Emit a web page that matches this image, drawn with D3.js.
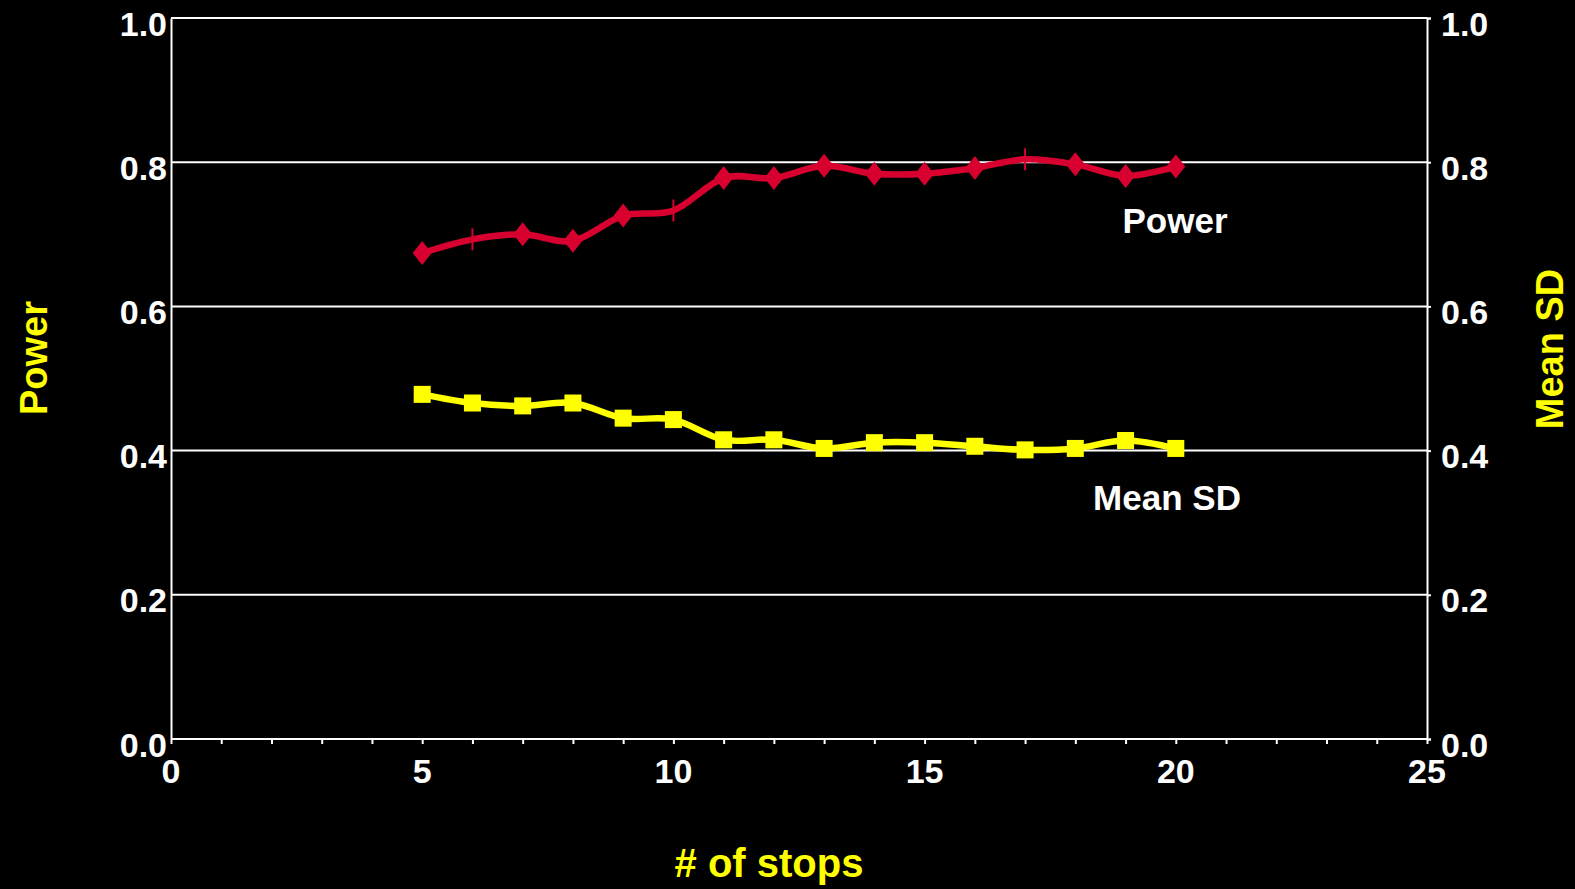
<!DOCTYPE html>
<html>
<head>
<meta charset="utf-8">
<script src="https://cdn.jsdelivr.net/npm/d3@7"></script>
<style>
  html, body { margin: 0; padding: 0; background: #000; }
  svg { display: block; font-family: Arial, "Liberation Sans", sans-serif; font-weight: bold; }
</style>
</head>
<body>
<svg id="chart"></svg>
<script>
// data
const stops = [5, 6, 7, 8, 9, 10, 11, 12, 13, 14, 15, 16, 17, 18, 19, 20];
const power = [0.674, 0.693, 0.700, 0.691, 0.726, 0.733, 0.778, 0.778, 0.795, 0.784, 0.784, 0.792, 0.804, 0.797, 0.781, 0.794];
const meanSD = [0.478, 0.466, 0.462, 0.466, 0.445, 0.443, 0.415, 0.415, 0.403, 0.411, 0.411, 0.406, 0.401, 0.403, 0.414, 0.403];
// points drawn as a thin vertical tick instead of a diamond
const tickOnly = [6, 10, 17];
const xTicks = [0, 5, 10, 15, 20, 25];
const yTicks = [0, 0.2, 0.4, 0.6, 0.8, 1.0];

const width = 1575, height = 889;
const red = '#d7002f', yellow = '#ffff00';

const svg = d3.select('#chart')
    .attr('width', width)
    .attr('height', height);

const x = d3.scaleLinear().domain([0, 25]).range([171, 1427]);
const y = d3.scaleLinear().domain([0, 1]).range([739, 18]);

// horizontal grid lines (also top border)
svg.append('g')
    .selectAll('line')
    .data(yTicks.filter(d => d > 0))
    .join('line')
    .attr('x1', x(0)).attr('x2', x(25))
    .attr('y1', d => y(d)).attr('y2', d => y(d))
    .attr('stroke', '#fff').attr('stroke-width', 2);

// bottom axis with minor ticks every unit
const xAxis = d3.axisBottom(x).ticks(25).tickSize(5).tickFormat('');
const gx = svg.append('g').attr('transform', `translate(0,${y(0)})`).call(xAxis);
gx.selectAll('path, line').attr('stroke', '#fff').attr('stroke-width', 2);
gx.select('.domain').attr('d', `M${x(0)},0H${x(25)}`);

svg.append('g')
    .selectAll('text')
    .data(xTicks)
    .join('text')
    .attr('x', d => x(d))
    .attr('y', 783)
    .attr('text-anchor', 'middle')
    .attr('fill', '#fff')
    .attr('font-size', 34)
    .text(d => d);

// left and right axes
const yLeft = d3.axisLeft(y).tickValues(yTicks).tickSize(0).tickFormat(d3.format('.1f'));
const gl = svg.append('g').attr('transform', `translate(${x(0)},0)`).call(yLeft);
gl.select('.domain').attr('stroke', '#fff').attr('stroke-width', 2);
gl.selectAll('text')
    .attr('fill', '#fff').attr('font-size', 34)
    .attr('font-family', 'Arial, "Liberation Sans", sans-serif')
    .attr('x', -4).attr('dy', '0.5em');

const yRight = d3.axisRight(y).tickValues(yTicks).tickSize(4).tickFormat(d3.format('.1f'));
const gr = svg.append('g').attr('transform', `translate(${x(25)},0)`).call(yRight);
gr.selectAll('path, line').attr('stroke', '#fff').attr('stroke-width', 2);
gr.selectAll('text')
    .attr('fill', '#fff').attr('font-size', 34)
    .attr('font-family', 'Arial, "Liberation Sans", sans-serif')
    .attr('x', 14).attr('dy', '0.5em');

// smoothed lines
const line = d3.line()
    .x(d => x(d[0]))
    .y(d => y(d[1]))
    .curve(d3.curveCardinal.tension(0));

const powerPts = stops.map((s, i) => [s, power[i]]);
const sdPts = stops.map((s, i) => [s, meanSD[i]]);

svg.append('path')
    .datum(powerPts)
    .attr('d', line)
    .attr('fill', 'none')
    .attr('stroke', red)
    .attr('stroke-width', 6.5);

svg.append('path')
    .datum(sdPts)
    .attr('d', line)
    .attr('fill', 'none')
    .attr('stroke', yellow)
    .attr('stroke-width', 6.5);

// markers
svg.append('g')
    .selectAll('path')
    .data(powerPts.filter(d => !tickOnly.includes(d[0])))
    .join('path')
    .attr('d', 'M0,-12L9.5,0L0,12L-9.5,0Z')
    .attr('transform', d => `translate(${x(d[0])},${y(d[1])})`)
    .attr('fill', red);

svg.append('g')
    .selectAll('line')
    .data(powerPts.filter(d => tickOnly.includes(d[0])))
    .join('line')
    .attr('x1', d => x(d[0])).attr('x2', d => x(d[0]))
    .attr('y1', d => y(d[1]) - 11).attr('y2', d => y(d[1]) + 11)
    .attr('stroke', red).attr('stroke-width', 2);

svg.append('g')
    .selectAll('rect')
    .data(sdPts)
    .join('rect')
    .attr('x', d => x(d[0]) - 8.5)
    .attr('y', d => y(d[1]) - 8.5)
    .attr('width', 17).attr('height', 17)
    .attr('fill', yellow);

// series labels
svg.append('text')
    .attr('x', 1175).attr('y', 233)
    .attr('text-anchor', 'middle')
    .attr('fill', '#fff').attr('font-size', 35)
    .text('Power');

svg.append('text')
    .attr('x', 1167).attr('y', 510)
    .attr('text-anchor', 'middle')
    .attr('fill', '#fff').attr('font-size', 35)
    .text('Mean SD');

// axis titles
svg.append('text')
    .attr('transform', 'translate(47,358) rotate(-90)')
    .attr('text-anchor', 'middle')
    .attr('fill', yellow).attr('font-size', 38)
    .text('Power');

svg.append('text')
    .attr('transform', 'translate(1563,349) rotate(-90)')
    .attr('text-anchor', 'middle')
    .attr('fill', yellow).attr('font-size', 38)
    .text('Mean SD');

svg.append('text')
    .attr('x', 769).attr('y', 877)
    .attr('text-anchor', 'middle')
    .attr('fill', yellow).attr('font-size', 40)
    .text('# of stops');
</script>
</body>
</html>
